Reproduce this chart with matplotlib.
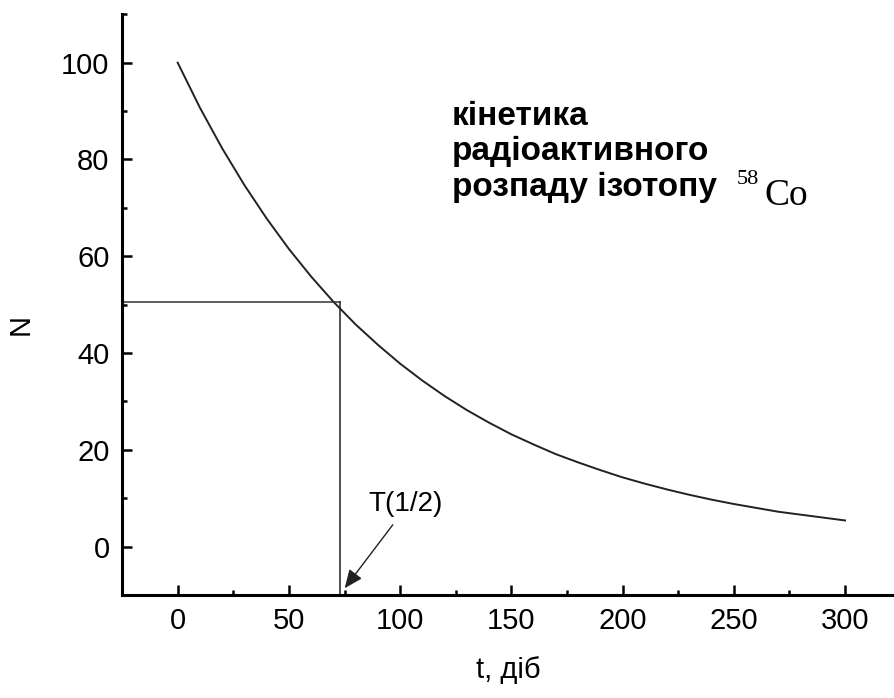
import matplotlib.pyplot as plt
from matplotlib.ticker import MultipleLocator

# days vs remaining nuclei
t_days = [0, 10, 20, 30, 40, 50, 60, 70, 80, 90, 100, 110, 120, 130, 140, 150,
          160, 170, 180, 190, 200, 210, 220, 230, 240, 250, 260, 270, 280, 290, 300]
n_left = [100, 90.7, 82.3, 74.7, 67.8, 61.5, 55.8, 50.6, 45.9, 41.7, 37.8, 34.3,
          31.1, 28.2, 25.6, 23.2, 21.1, 19.1, 17.4, 15.8, 14.3, 13.0, 11.8, 10.7,
          9.7, 8.8, 8.0, 7.2, 6.6, 6.0, 5.4]
t_half = 73.0
n_half = 50.5
title_lines = ['кінетика', 'радіоактивного', 'розпаду ізотопу']

plt.rcParams['font.family'] = ['Liberation Sans', 'DejaVu Sans']

fig = plt.figure(figsize=(8.94, 6.98), dpi=100)
ax = fig.add_axes([0.1365, 0.1476, 0.8635, 0.832])

ax.plot(t_days, n_left, color='#222222', lw=1.4)
ax.plot([-25, t_half], [n_half, n_half], color='#333333', lw=1.1)
ax.plot([t_half, t_half], [n_half, -10], color='#222222', lw=1.1)

# T(1/2) label with arrow to the axis
ax.text(102.5, 8.7, 'T(1/2)', fontsize=20, ha='center', va='center')
ax.annotate('', xy=(75.1, -8.6), xytext=(96.7, 4.5),
            arrowprops=dict(arrowstyle='-|>,head_length=0.7,head_width=0.3',
                            color='#222222', lw=1.0, mutation_scale=16,
                            shrinkA=0, shrinkB=0))

title_y = [87.2, 79.8, 72.4]
for line, y in zip(title_lines, title_y):
    ax.text(123.2, y, line, fontsize=24, fontweight='bold',
            ha='left', va='baseline')
ax.text(251.5, 75.0, '58', fontsize=16, family='Liberation Serif',
        ha='left', va='baseline')
ax.text(264.0, 70.5, 'Co', fontsize=27, family='Liberation Serif',
        ha='left', va='baseline')

ax.set_xlim(-25, 322)
ax.set_ylim(-10, 110)
ax.xaxis.set_major_locator(MultipleLocator(50))
ax.xaxis.set_minor_locator(MultipleLocator(25))
ax.yaxis.set_major_locator(MultipleLocator(20))
ax.yaxis.set_minor_locator(MultipleLocator(10))
ax.set_xticks([0, 50, 100, 150, 200, 250, 300])
ax.set_yticks([0, 20, 40, 60, 80, 100])

for s in ['top', 'right']:
    ax.spines[s].set_visible(False)
for s in ['left', 'bottom']:
    ax.spines[s].set_linewidth(2.2)

ax.tick_params(which='major', direction='in', length=7.2, width=1.8,
               labelsize=21, pad=9)
ax.tick_params(which='minor', direction='in', length=3.6, width=1.8)

ax.set_xlabel('t, діб', fontsize=21)
ax.set_ylabel('N', fontsize=21)
ax.xaxis.set_label_coords(0.5, -0.105)
ax.yaxis.set_label_coords(-0.113, 0.465)

fig.savefig('out.png', dpi=100)
